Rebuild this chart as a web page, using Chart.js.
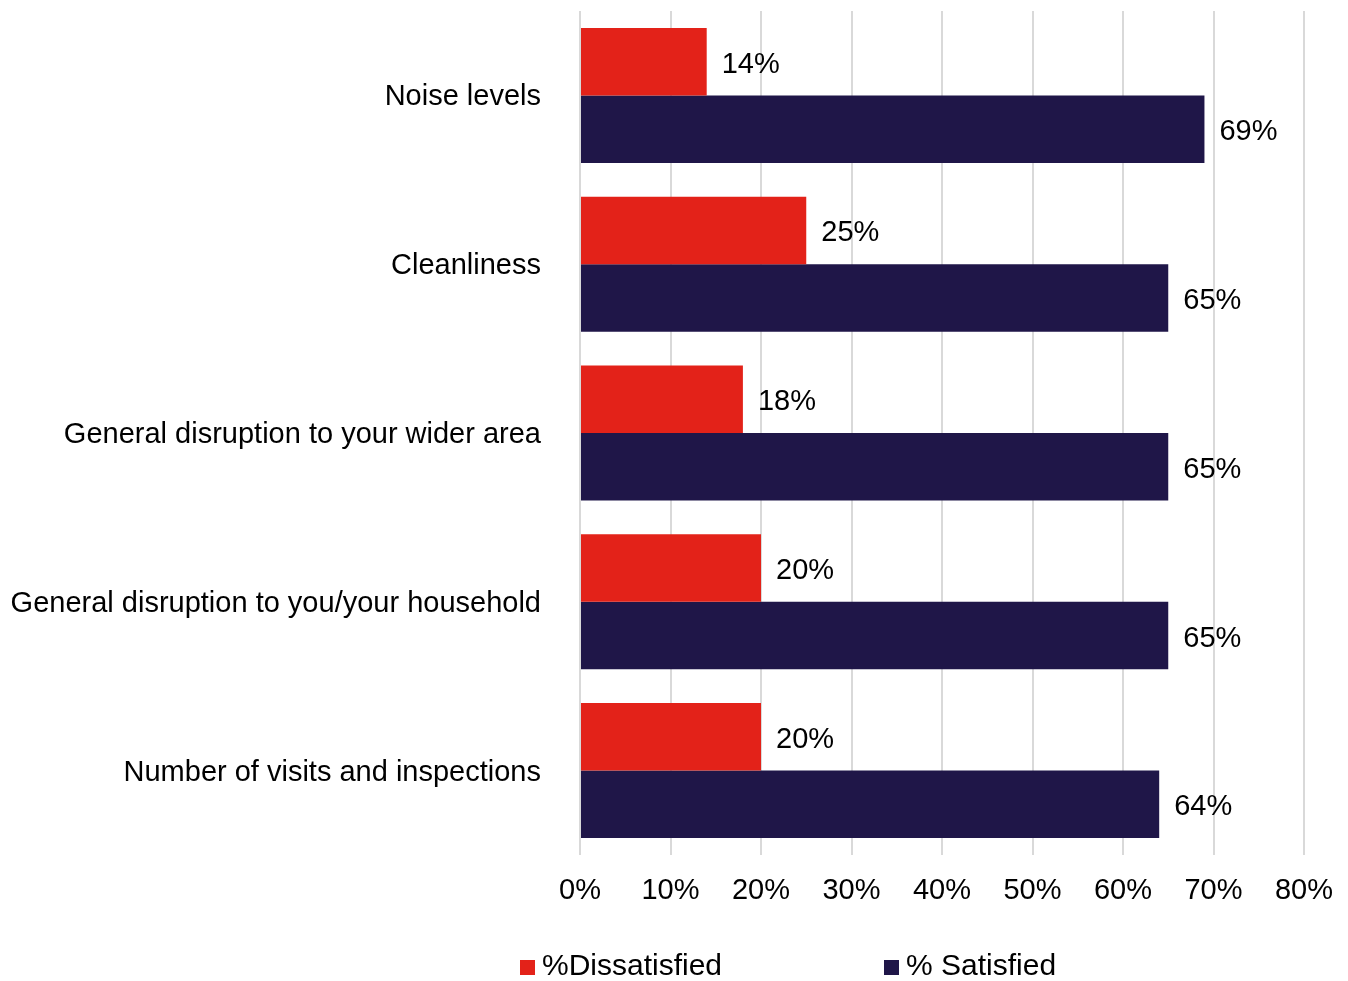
<!DOCTYPE html>
<html>
<head>
<meta charset="utf-8">
<title>Satisfaction with works</title>
<script src="https://cdn.jsdelivr.net/npm/chart.js@4.4.1/dist/chart.umd.min.js"></script>
<style>
  html, body { margin: 0; padding: 0; background: #ffffff; }
  #wrap { width: 1348px; height: 981px; position: relative; }
</style>
</head>
<body>
<div id="wrap"><canvas id="chart" width="1348" height="981"></canvas></div>
<script>
// Survey aspects, top to bottom
const categories = [
  'Noise levels',
  'Cleanliness',
  'General disruption to your wider area',
  'General disruption to you/your household',
  'Number of visits and inspections'
];
// Percent of respondents
const dissatisfied = [14, 25, 18, 20, 20];
const satisfied = [69, 65, 65, 65, 64];
const seriesNames = ['%Dissatisfied', '% Satisfied'];
const xTicks = [0, 10, 20, 30, 40, 50, 60, 70, 80];

const FONT = '"Liberation Sans", Arial, Helvetica, sans-serif';
const RED = '#E32219';
const NAVY = '#1F1648';

// Value labels just past the end of each bar
const valueLabels = {
  id: 'valueLabels',
  afterDatasetsDraw(chart) {
    const ctx = chart.ctx;
    ctx.save();
    ctx.font = '29px ' + FONT;
    ctx.fillStyle = '#000';
    ctx.textAlign = 'left';
    ctx.textBaseline = 'middle';
    chart.data.datasets.forEach((ds, di) => {
      const meta = chart.getDatasetMeta(di);
      meta.data.forEach((bar, i) => {
        ctx.fillText(ds.data[i] + '%', bar.x + 15, bar.y + 3);
      });
    });
    ctx.restore();
  }
};

// Legend row under the axis
const bottomLegend = {
  id: 'bottomLegend',
  afterDraw(chart) {
    const ctx = chart.ctx;
    const starts = [520, 884];
    const cy = 967;
    ctx.save();
    ctx.font = '30px ' + FONT;
    ctx.textAlign = 'left';
    ctx.textBaseline = 'middle';
    chart.data.datasets.forEach((ds, i) => {
      const x = starts[i];
      ctx.fillStyle = ds.backgroundColor;
      ctx.fillRect(x, cy - 7, 15, 15);
      ctx.fillStyle = '#000';
      ctx.fillText(ds.label, x + 22, cy);
    });
    ctx.restore();
  }
};

new Chart(document.getElementById('chart'), {
  type: 'bar',
  data: {
    labels: categories,
    datasets: [
      { label: seriesNames[0], data: dissatisfied, backgroundColor: RED },
      { label: seriesNames[1], data: satisfied, backgroundColor: NAVY }
    ]
  },
  options: {
    indexAxis: 'y',
    responsive: false,
    animation: false,
    events: [],
    layout: { padding: { top: 11, right: 44, bottom: 0, left: 0 } },
    datasets: {
      bar: { barPercentage: 1.0, categoryPercentage: 0.8 }
    },
    scales: {
      x: {
        min: 0,
        max: 80,
        afterBuildTicks(scale) {
          scale.ticks = xTicks.map(v => ({ value: v }));
        },
        afterFit(scale) {
          scale.height = 126;
          scale.paddingLeft = 0;
          scale.paddingRight = 0;
        },
        grid: { color: '#D9D9D9', lineWidth: 2, drawTicks: false },
        border: { display: false },
        ticks: {
          padding: 19,
          color: '#000',
          font: { family: FONT, size: 29 },
          callback: v => v + '%'
        }
      },
      y: {
        afterFit(scale) {
          scale.width = 580;
          scale.paddingTop = 0;
          scale.paddingBottom = 0;
        },
        grid: { display: false, drawTicks: false },
        border: { display: false },
        ticks: {
          padding: 39,
          labelOffset: 2,
          color: '#000',
          font: { family: FONT, size: 29 }
        }
      }
    },
    plugins: {
      legend: { display: false },
      tooltip: { enabled: false }
    }
  },
  plugins: [valueLabels, bottomLegend]
});
</script>
</body>
</html>
